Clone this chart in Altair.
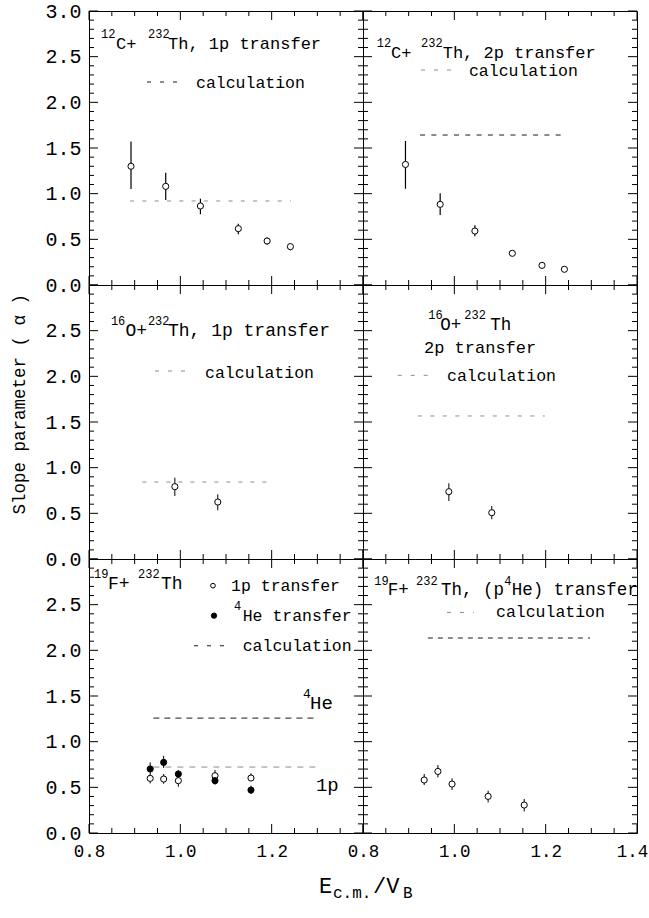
import altair as alt
import pandas as pd

FONT = "Liberation Mono"
W, H = 274, 274            # each panel's plot area in pixels
GRAY = "#8c8c8c"
DARK = "#1a1a1a"

XS = alt.Scale(domain=[0.8, 1.4], nice=False, zero=False)
YS = alt.Scale(domain=[0.0, 3.0], nice=False, zero=False)

# ---------------- measured slope parameters ----------------
# 12C + 232Th, 1p transfer
c12_1p_e = [0.892, 0.968, 1.044, 1.127, 1.190, 1.241]
c12_1p_a = [1.30, 1.08, 0.865, 0.617, 0.482, 0.420]
c12_1p_lo = [1.05, 0.93, 0.775, 0.555, 0.440, 0.380]
c12_1p_hi = [1.57, 1.23, 0.945, 0.670, 0.520, 0.452]
c12_1p_calc = [0.890, 1.242, 0.92]          # E start, E end, alpha

# 12C + 232Th, 2p transfer
c12_2p_e = [0.893, 0.969, 1.045, 1.127, 1.192, 1.241]
c12_2p_a = [1.32, 0.883, 0.591, 0.347, 0.215, 0.172]
c12_2p_lo = [1.054, 0.766, 0.533, 0.32, 0.19, 0.15]
c12_2p_hi = [1.577, 1.004, 0.653, 0.37, 0.24, 0.19]
c12_2p_calc = [0.925, 1.234, 1.642]

# 16O + 232Th, 1p transfer
o16_1p_e = [0.988, 1.082]
o16_1p_a = [0.792, 0.624]
o16_1p_lo = [0.690, 0.533]
o16_1p_hi = [0.890, 0.708]
o16_1p_calc = [0.917, 1.202, 0.843]

# 16O + 232Th, 2p transfer
o16_2p_e = [0.988, 1.082]
o16_2p_a = [0.737, 0.507]
o16_2p_lo = [0.635, 0.435]
o16_2p_hi = [0.829, 0.580]
o16_2p_calc = [0.920, 1.198, 1.566]

# 19F + 232Th, 1p and 4He transfer
f19_e = [0.934, 0.9635, 0.9956, 1.0759, 1.1547]
f19_1p_a = [0.598, 0.591, 0.573, 0.627, 0.602]
f19_1p_lo = [0.543, 0.540, 0.507, 0.590, 0.573]
f19_1p_hi = [0.646, 0.646, 0.627, 0.690, 0.653]
f19_he_a = [0.701, 0.773, 0.646, 0.573, 0.470]
f19_he_lo = [0.646, 0.712, 0.590, 0.529, 0.427]
f19_he_hi = [0.773, 0.846, 0.690, 0.616, 0.518]
f19_he_calc = [0.941, 1.297, 1.258]
f19_1p_calc = [0.941, 1.297, 0.722]

# 19F + 232Th, (p 4He) transfer
f19_p4_e = [0.934, 0.964, 0.995, 1.074, 1.153]
f19_p4_a = [0.580, 0.674, 0.536, 0.401, 0.306]
f19_p4_lo = [0.525, 0.609, 0.471, 0.335, 0.236]
f19_p4_hi = [0.646, 0.744, 0.598, 0.463, 0.372]
f19_p4_calc = [0.942, 1.297, 2.135]

# ---------------- axis ticks and labels ----------------
Y_MAJOR = [0.0, 0.5, 1.0, 1.5, 2.0, 2.5, 3.0]
Y_MINOR = [round(i / 10, 1) for i in range(31) if i % 5]
X_MAJOR = [0.8, 1.0, 1.2, 1.4]
X_MINOR = [round(0.8 + 0.05 * i, 2) for i in range(13) if i % 4]

Y_LABELS_TOP = [0.0, 0.5, 1.0, 1.5, 2.0, 2.5, 3.0]
Y_LABELS = [0.0, 0.5, 1.0, 1.5, 2.0, 2.5]
X_LABELS_LEFT = [0.8, 1.0, 1.2]
X_LABELS_RIGHT = [0.8, 1.0, 1.2, 1.4]


class Panel:
    """One framed panel; every layer carries the same axis definitions."""

    def __init__(self, ylabels=None, xlabels=None):
        self.yax = None
        self.xax = None
        if ylabels:
            self.yax = alt.Axis(values=ylabels, format=".1f", ticks=False, tickSize=0,
                                domain=False, grid=False, labelFont=FONT, labelFontSize=20,
                                labelPadding=8, labelColor="black", labelFlush=False,
                                title=None)
        if xlabels:
            # the last label is nudged inward so it stays on the page
            self.xax = alt.Axis(values=xlabels, format=".1f", ticks=False, tickSize=0,
                                domain=False, grid=False, labelFont=FONT, labelFontSize=17.5,
                                labelPadding=9, labelColor="black", labelFlush=False,
                                labelOffset={"condition": {"test": "datum.value > 1.35",
                                                           "value": -5},
                                             "value": 0},
                                title=None)
        self.layers = []

    def X(self, f):
        return alt.X(f, scale=XS, axis=self.xax)

    def Y(self, f):
        return alt.Y(f, scale=YS, axis=self.yax)

    def add(self, *charts):
        self.layers.extend(charts)
        return self

    def ticks(self):
        """Inward ticks on all four sides."""
        for vals, L in ((Y_MAJOR, 9), (Y_MINOR, 5)):
            base = alt.Chart(pd.DataFrame({"v": vals})).mark_rule(color="black", strokeWidth=1)
            self.add(base.encode(y=self.Y("v:Q"), x=alt.value(0), x2=alt.value(L)),
                     base.encode(y=self.Y("v:Q"), x=alt.value(W), x2=alt.value(W - L)))
        for vals, L in ((X_MAJOR, 9), (X_MINOR, 5)):
            base = alt.Chart(pd.DataFrame({"v": vals})).mark_rule(color="black", strokeWidth=1)
            self.add(base.encode(x=self.X("v:Q"), y=alt.value(H), y2=alt.value(H - L)),
                     base.encode(x=self.X("v:Q"), y=alt.value(0), y2=alt.value(L)))
        return self

    def errbars(self, e, lo, hi, width=1):
        df = pd.DataFrame({"e": e, "lo": lo, "hi": hi})
        return self.add(alt.Chart(df).mark_rule(color="black", strokeWidth=width).encode(
            x=self.X("e:Q"), y=self.Y("lo:Q"), y2="hi:Q"))

    def dots(self, e, a, filled=False, size=38):
        df = pd.DataFrame({"e": e, "a": a})
        return self.add(alt.Chart(df).mark_point(
            shape="circle", size=size, filled=True, opacity=1,
            fill="black" if filled else "white", stroke="black", strokeWidth=1
        ).encode(x=self.X("e:Q"), y=self.Y("a:Q")))

    def dashed(self, x0, x1, a, color, dash, width=1):
        df = pd.DataFrame({"x0": [x0], "x1": [x1], "a": [a]})
        return self.add(alt.Chart(df).mark_rule(
            color=color, strokeDash=dash, strokeWidth=width
        ).encode(x=self.X("x0:Q"), x2="x1:Q", y=self.Y("a:Q")))

    def words(self, x, y, s, size, dx=0, dy=0):
        df = pd.DataFrame({"x": [x], "y": [y], "t": [s]})
        return self.add(alt.Chart(df).mark_text(
            font=FONT, fontSize=size, align="left", baseline="alphabetic",
            dx=dx, dy=dy, color="black"
        ).encode(x=self.X("x:Q"), y=self.Y("y:Q"), text="t:N"))

    def rich(self, x, y, segs, size, sup=12, rise=11):
        """Label built from normal and superscript pieces, offset in pixels."""
        for s, dx, up in segs:
            self.words(x, y, s, sup if up else size, dx=dx, dy=-rise if up else 0)
        return self

    def legend_calc(self, x0, x1, ydash, xt, ytext, color):
        self.dashed(x0, x1, ydash, color, [4, 9])
        return self.words(xt, ytext, "calculation", 16.5)

    def pix_text(self, px, py, s, size, angle=0, align="left", baseline="alphabetic"):
        return self.add(alt.Chart(pd.DataFrame({"t": [s]})).mark_text(
            font=FONT, fontSize=size, align=align, baseline=baseline,
            angle=angle, color="black"
        ).encode(x=alt.value(px), y=alt.value(py), text="t:N"))

    def chart(self):
        return alt.layer(*self.layers).properties(width=W, height=H)


# ---------------- panels ----------------
p1 = (Panel(ylabels=Y_LABELS_TOP).ticks()
      .dashed(*c12_1p_calc, GRAY, [4, 8.3])
      .errbars(c12_1p_e, c12_1p_lo, c12_1p_hi, 1.2)
      .dots(c12_1p_e, c12_1p_a)
      .rich(0.8263, 2.584, [("12", 0, True), ("C+", 15, False),
                            ("232", 47, True), ("Th, 1p transfer", 67, False)], 17)
      .legend_calc(0.927, 1.006, 2.2226, 1.0343, 2.157, DARK))

p2 = (Panel().ticks()
      .dashed(*c12_2p_calc, DARK, [5, 6.3])
      .errbars(c12_2p_e, c12_2p_lo, c12_2p_hi, 1.2)
      .dots(c12_2p_e, c12_2p_a)
      .rich(0.830, 2.485, [("12", 0, True), ("C+", 14.3, False),
                           ("232", 44.3, True), ("Th, 2p transfer", 66, False)], 17)
      .legend_calc(0.927, 1.004, 2.354, 1.032, 2.288, GRAY))

p3 = (Panel(ylabels=Y_LABELS).ticks()
      .dashed(*o16_1p_calc, GRAY, [4, 8])
      .errbars(o16_1p_e, o16_1p_lo, o16_1p_hi)
      .dots(o16_1p_e, o16_1p_a)
      .rich(0.848, 2.4416, [("16", 0, True), ("O+", 14.5, False),
                            ("232", 37, True), ("Th, 1p transfer", 57, False)], 18)
      .legend_calc(0.9445, 1.025, 2.058, 1.0541, 1.985, GRAY)
      .pix_text(-69.5, 119.2, "Slope parameter ( \u03b1 )", 17.5, angle=270,
                align="center", baseline="middle"))

p4 = (Panel().ticks()
      .dashed(*o16_2p_calc, GRAY, [4, 8.5])
      .errbars(o16_2p_e, o16_2p_lo, o16_2p_hi)
      .dots(o16_2p_e, o16_2p_a)
      .rich(0.943, 2.507, [("16", 0, True), ("O+", 12, False),
                           ("232", 36, True), ("Th", 62, False)], 17.5)
      .words(0.9336, 2.259, "2p transfer", 17)
      .legend_calc(0.876, 0.9526, 2.011, 0.984, 1.949, GRAY))

p5 = (Panel(ylabels=Y_LABELS, xlabels=X_LABELS_LEFT).ticks()
      .dashed(*f19_he_calc, DARK, [6, 5])
      .dashed(*f19_1p_calc, GRAY, [6, 6])
      .errbars(f19_e, f19_1p_lo, f19_1p_hi)
      .errbars(f19_e, f19_he_lo, f19_he_hi)
      .dots(f19_e, f19_1p_a)
      .dots(f19_e, f19_he_a, filled=True)
      .rich(0.811, 2.675, [("19", 0, True), ("F+", 14, False),
                           ("232", 44, True), ("Th", 67, False)], 18)
      .dots([1.0715], [2.708], size=22)
      .words(1.111, 2.653, "1p transfer", 16.5)
      .dots([1.0737], [2.380], filled=True, size=28)
      .rich(1.1175, 2.324, [("4", 0, True), ("He transfer", 8.7, False)], 16.5)
      .dashed(1.030, 1.111, 2.05, DARK, [4, 9])
      .words(1.1366, 1.996, "calculation", 16.5)
      .rich(1.2686, 1.361, [("4", 0, True), ("He", 7, False)], 19, sup=13)
      .words(1.297, 0.4637, "1p", 19)
      # x-axis title written below the bottom row
      .pix_text(230, 333.7, "E", 22)
      .pix_text(244, 338.7, "c.m.", 16)
      .pix_text(284, 333.7, "/V", 22)
      .pix_text(314, 338.7, "B", 16))

p6 = (Panel(xlabels=X_LABELS_RIGHT).ticks()
      .dashed(*f19_p4_calc, DARK, [5, 5])
      .errbars(f19_p4_e, f19_p4_lo, f19_p4_hi)
      .dots(f19_p4_e, f19_p4_a)
      .rich(0.8248, 2.609, [("19", 0, True), ("F+", 13.4, False), ("232", 41.7, True),
                            ("Th, (p", 66.7, False), ("4", 130, True),
                            ("He) transfer", 137.4, False)], 17.5, rise=10)
      .legend_calc(0.984, 1.043, 2.415, 1.0912, 2.361, GRAY))

chart = alt.concat(
    *(p.chart() for p in (p1, p2, p3, p4, p5, p6)),
    columns=2, spacing=0, bounds="flush"
).properties(
    padding={"left": 9, "top": 0, "right": 0, "bottom": 0}
).configure_view(stroke="black", strokeWidth=1)

chart.save("out.html", embed_options={"renderer": "svg", "actions": False})
